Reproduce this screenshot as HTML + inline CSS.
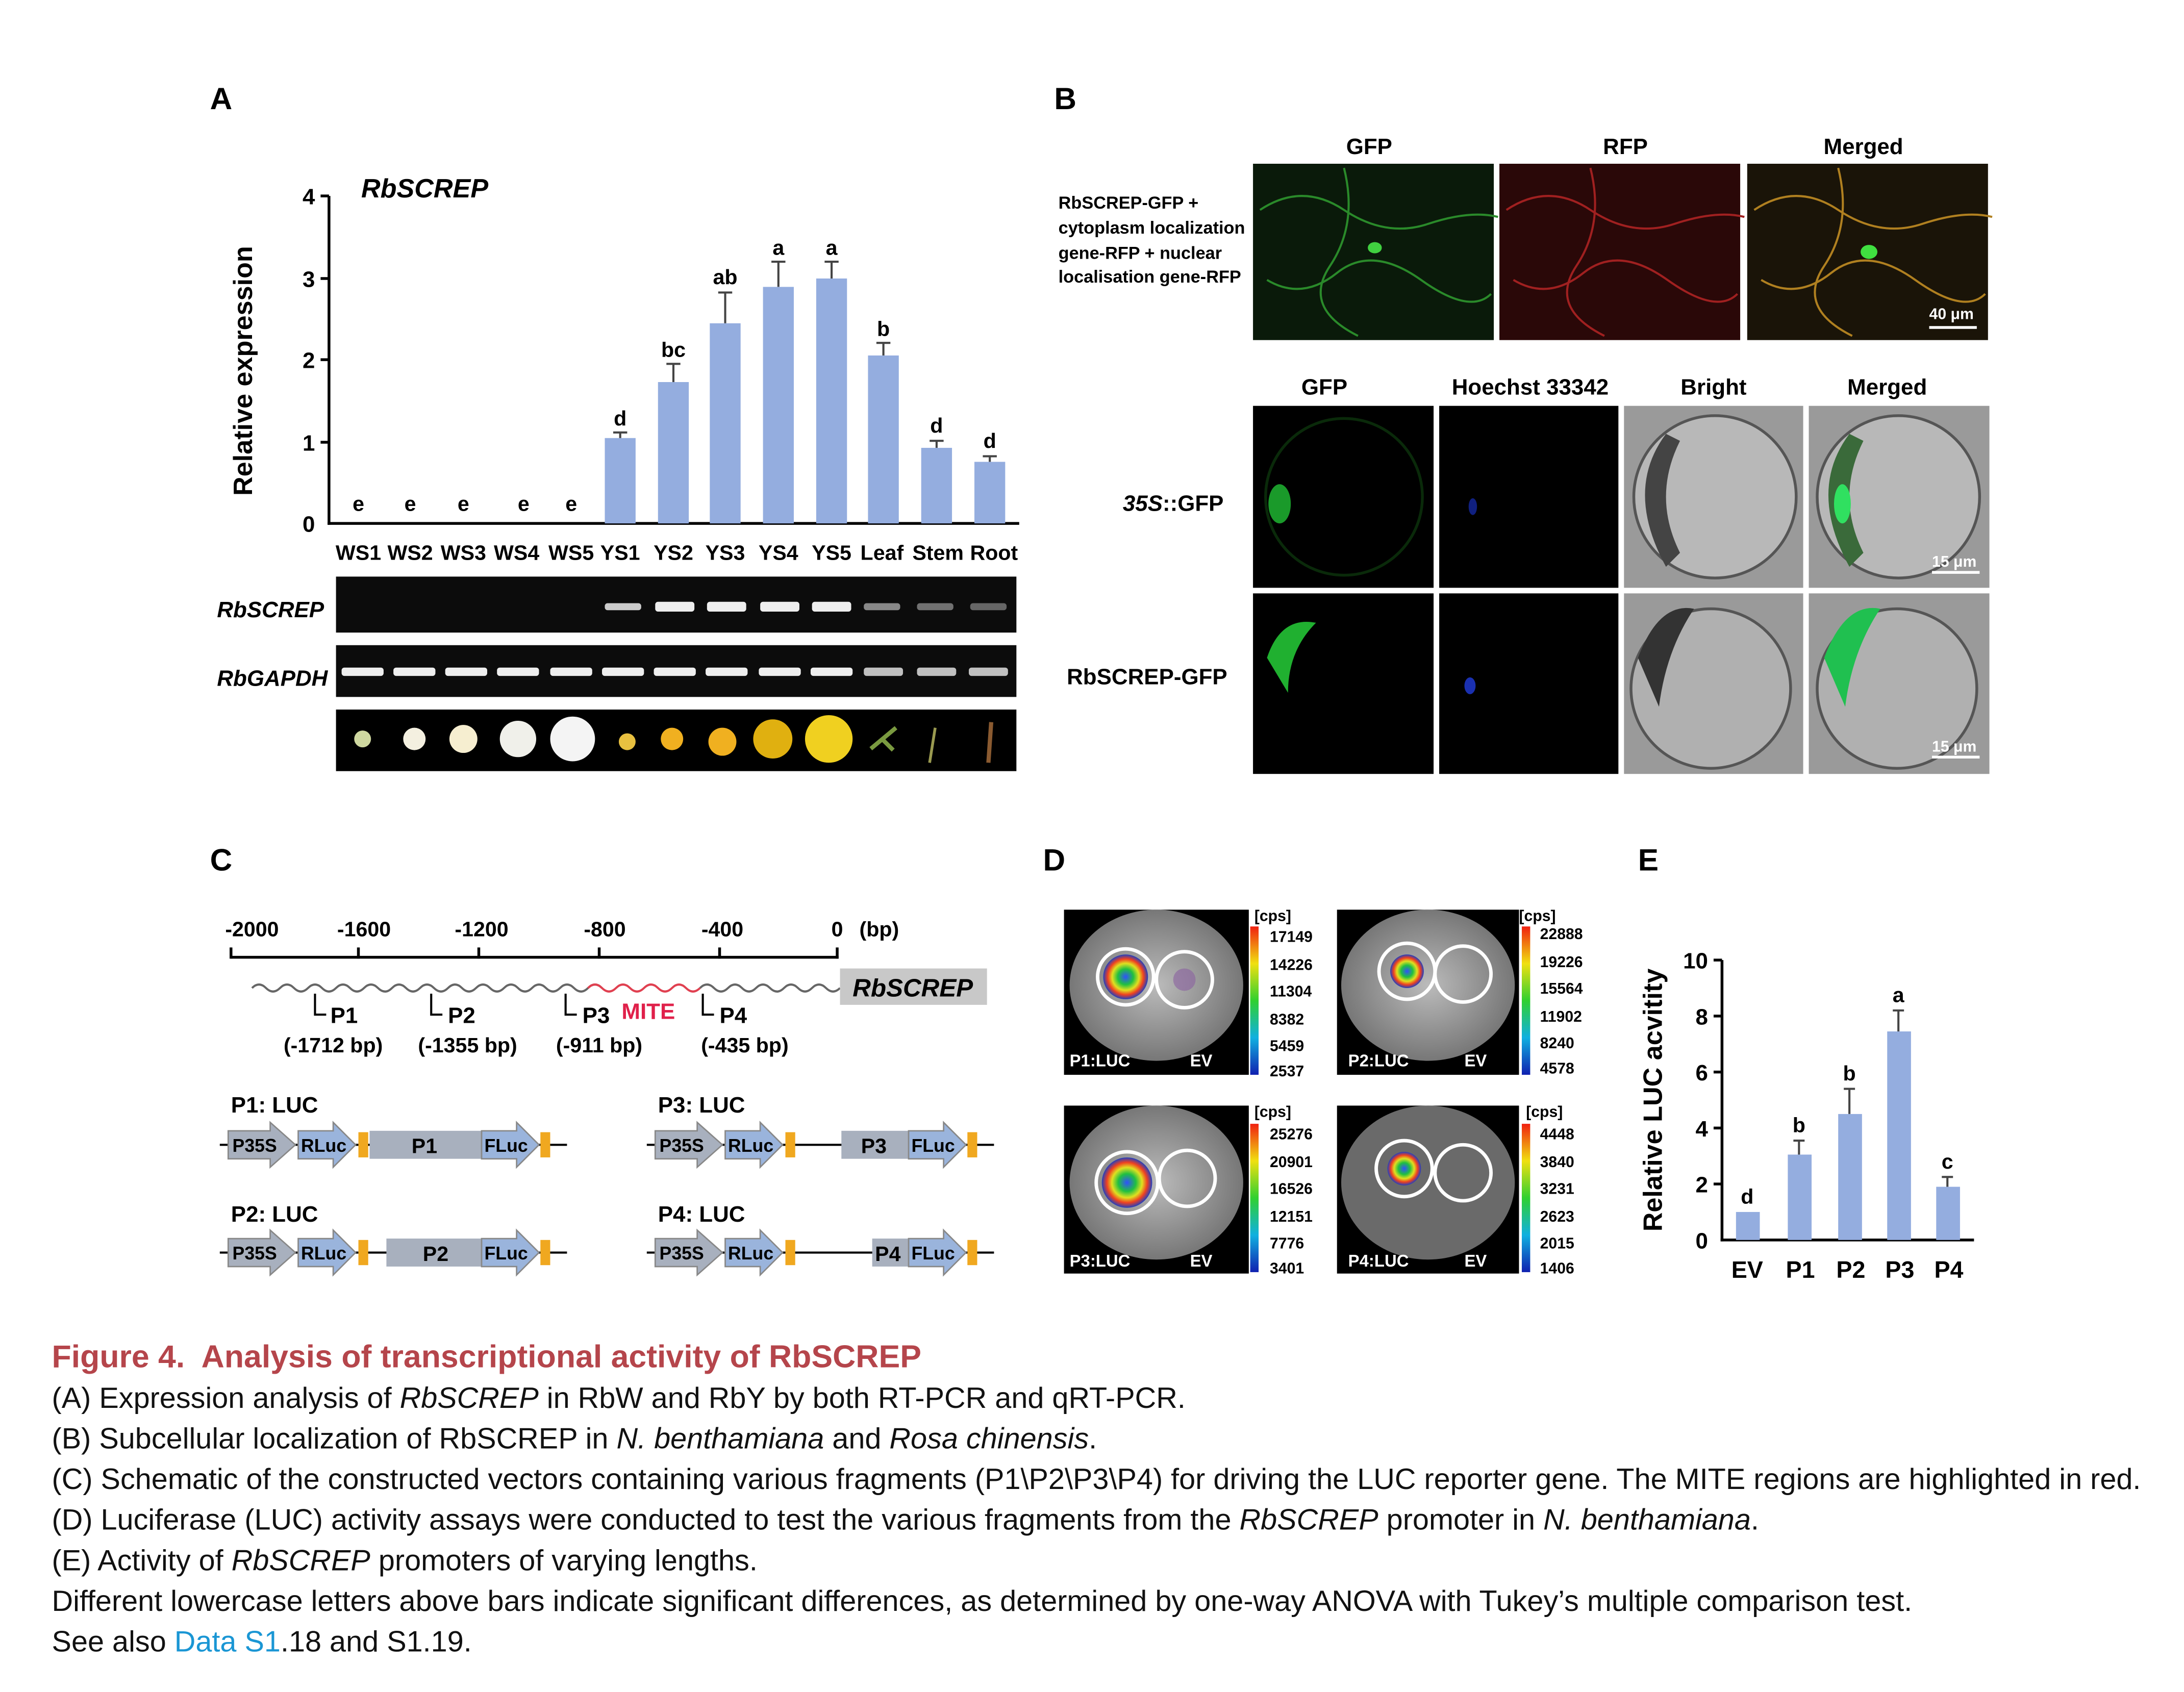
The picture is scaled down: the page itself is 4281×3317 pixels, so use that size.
<!DOCTYPE html>
<html><head><meta charset="utf-8"><style>
html,body{margin:0;padding:0;background:#fff}
svg{display:block}
text{font-family:"Liberation Sans",Arial,sans-serif}
</style></head><body>
<svg width="4281" height="3317" viewBox="0 0 1560 1209" preserveAspectRatio="none" xmlns="http://www.w3.org/2000/svg">
<defs>
<radialGradient id="hot"><stop offset="0" stop-color="#3050ff"/><stop offset="0.35" stop-color="#20c040"/><stop offset="0.6" stop-color="#e0e020"/><stop offset="0.8" stop-color="#f04020"/><stop offset="1" stop-color="#2040c0"/></radialGradient>
<linearGradient id="cbar" x1="0" y1="1" x2="0" y2="0"><stop offset="0" stop-color="#1020b0"/><stop offset="0.25" stop-color="#10b0e0"/><stop offset="0.5" stop-color="#30d030"/><stop offset="0.75" stop-color="#f0e010"/><stop offset="1" stop-color="#f02010"/></linearGradient>
<radialGradient id="leaf"><stop offset="0" stop-color="#bbb"/><stop offset="1" stop-color="#777"/></radialGradient>
</defs>
<g font-weight="bold">
<text x="150" y="78" font-size="22">A</text>
<text x="258" y="141" font-size="19" font-style="italic">RbSCREP</text>
<text transform="translate(180,265) rotate(-90)" font-size="19" text-anchor="middle">Relative expression</text>
<g stroke="#000" stroke-width="2" fill="none">
<line x1="235" y1="140" x2="235" y2="375"/><line x1="234" y1="374" x2="728" y2="374"/>
<line x1="229" y1="140" x2="235" y2="140"/><line x1="229" y1="199" x2="235" y2="199"/><line x1="229" y1="257" x2="235" y2="257"/><line x1="229" y1="316" x2="235" y2="316"/>
</g>
<g font-size="16" text-anchor="end"><text x="225" y="146">4</text><text x="225" y="205">3</text><text x="225" y="263">2</text><text x="225" y="322">1</text><text x="225" y="380">0</text></g>
<g fill="#94addf">
<rect x="432" y="313" width="22" height="61"/><rect x="470" y="273" width="22" height="101"/><rect x="507" y="231" width="22" height="143"/><rect x="545" y="205" width="22" height="169"/><rect x="583" y="199" width="22" height="175"/><rect x="620" y="254" width="22" height="120"/><rect x="658" y="320" width="22" height="54"/><rect x="696" y="330" width="22" height="44"/>
</g>
<g stroke="#444" stroke-width="1.5">
<line x1="443" y1="313" x2="443" y2="309"/><line x1="438" y1="309" x2="448" y2="309"/>
<line x1="481" y1="273" x2="481" y2="260"/><line x1="476" y1="260" x2="486" y2="260"/>
<line x1="518" y1="231" x2="518" y2="209"/><line x1="513" y1="209" x2="523" y2="209"/>
<line x1="556" y1="205" x2="556" y2="187"/><line x1="551" y1="187" x2="561" y2="187"/>
<line x1="594" y1="199" x2="594" y2="187"/><line x1="589" y1="187" x2="599" y2="187"/>
<line x1="631" y1="254" x2="631" y2="245"/><line x1="626" y1="245" x2="636" y2="245"/>
<line x1="669" y1="320" x2="669" y2="315"/><line x1="664" y1="315" x2="674" y2="315"/>
<line x1="707" y1="330" x2="707" y2="326"/><line x1="702" y1="326" x2="712" y2="326"/>
</g>
<g font-size="15" text-anchor="middle">
<text x="256" y="365">e</text><text x="293" y="365">e</text><text x="331" y="365">e</text><text x="374" y="365">e</text><text x="408" y="365">e</text>
<text x="443" y="304">d</text><text x="481" y="255">bc</text><text x="518" y="203">ab</text><text x="556" y="182">a</text><text x="594" y="182">a</text><text x="631" y="240">b</text><text x="669" y="309">d</text><text x="707" y="320">d</text>
</g>
<g font-size="15" text-anchor="middle">
<text x="256" y="400">WS1</text><text x="293" y="400">WS2</text><text x="331" y="400">WS3</text><text x="369" y="400">WS4</text><text x="408" y="400">WS5</text><text x="443" y="400">YS1</text><text x="481" y="400">YS2</text><text x="518" y="400">YS3</text><text x="556" y="400">YS4</text><text x="594" y="400">YS5</text><text x="630" y="400">Leaf</text><text x="670" y="400">Stem</text><text x="710" y="400">Root</text>
</g>
<text x="155" y="441" font-size="16" font-style="italic">RbSCREP</text>
<text x="155" y="490" font-size="16" font-style="italic">RbGAPDH</text>
<rect x="240" y="412" width="486" height="40" fill="#0c0c0c"/>
<rect x="240" y="461" width="486" height="37" fill="#0c0c0c"/>
<rect x="240" y="507" width="486" height="44" fill="#000"/>
<g fill="#eee">
<rect x="432" y="431" width="26" height="5" rx="2" opacity=".85"/><rect x="468" y="430" width="28" height="7" rx="2"/><rect x="505" y="430" width="28" height="7" rx="2"/><rect x="543" y="430" width="28" height="7" rx="2"/><rect x="580" y="430" width="28" height="7" rx="2"/><rect x="617" y="431" width="26" height="5" rx="2" opacity=".55"/><rect x="655" y="431" width="26" height="5" rx="2" opacity=".45"/><rect x="693" y="431" width="26" height="5" rx="2" opacity=".4"/>
<rect x="244" y="477" width="30" height="6" rx="2"/><rect x="281" y="477" width="30" height="6" rx="2"/><rect x="318" y="477" width="30" height="6" rx="2"/><rect x="355" y="477" width="30" height="6" rx="2"/><rect x="393" y="477" width="30" height="6" rx="2"/><rect x="430" y="477" width="30" height="6" rx="2"/><rect x="467" y="477" width="30" height="6" rx="2"/><rect x="504" y="477" width="30" height="6" rx="2"/><rect x="542" y="477" width="30" height="6" rx="2"/><rect x="579" y="477" width="30" height="6" rx="2"/><rect x="617" y="477" width="28" height="6" rx="2" opacity=".8"/><rect x="655" y="477" width="28" height="6" rx="2" opacity=".8"/><rect x="692" y="477" width="28" height="6" rx="2" opacity=".8"/>
</g>
<g>
<circle cx="259" cy="528" r="6" fill="#cfd8a0"/><circle cx="296" cy="528" r="8" fill="#f4f0e0"/><circle cx="331" cy="528" r="10" fill="#f6eed0"/><circle cx="370" cy="528" r="13" fill="#f0f0ea"/><circle cx="409" cy="528" r="16" fill="#f4f4f4"/>
<circle cx="448" cy="530" r="6" fill="#e8c040"/><circle cx="480" cy="528" r="8" fill="#f0b020"/><circle cx="516" cy="530" r="10" fill="#f0b020"/><circle cx="552" cy="528" r="14" fill="#e0b010"/><circle cx="592" cy="528" r="17" fill="#f0d020"/>
<path d="M622 535 L640 520 M630 528 l8 8" stroke="#7a9a40" stroke-width="3"/><path d="M664 545 L668 520" stroke="#9a9a50" stroke-width="2"/><path d="M706 545 L708 516" stroke="#8a5a30" stroke-width="3"/>
</g>

<text x="753" y="78" font-size="22">B</text>
<g font-size="16" text-anchor="middle"><text x="978" y="110">GFP</text><text x="1161" y="110">RFP</text><text x="1331" y="110">Merged</text>
<text x="946" y="282">GFP</text><text x="1093" y="282">Hoechst 33342</text><text x="1224" y="282">Bright</text><text x="1348" y="282">Merged</text></g>
<g font-size="12.5"><text x="756" y="149">RbSCREP-GFP +</text><text x="756" y="167">cytoplasm localization</text><text x="756" y="185">gene-RFP + nuclear</text><text x="756" y="202">localisation gene-RFP</text></g>
<rect x="895" y="117" width="172" height="126" fill="#0a1a0a"/>
<rect x="1071" y="117" width="172" height="126" fill="#2a0808"/>
<rect x="1248" y="117" width="172" height="126" fill="#1a1408"/>
<path d="M900 150 q30 -20 60 0 t60 10 t50 -5 M905 200 q25 15 50 -5 t60 5 t50 10 M960 120 q10 40 -10 70 t20 50" stroke="#2a8a2a" stroke-width="1.5" fill="none"/>
<path d="M1076 150 q30 -20 60 0 t60 10 t50 -5 M1081 200 q25 15 50 -5 t60 5 t50 10 M1136 120 q10 40 -10 70 t20 50" stroke="#a02020" stroke-width="1.5" fill="none"/>
<path d="M1253 150 q30 -20 60 0 t60 10 t50 -5 M1258 200 q25 15 50 -5 t60 5 t50 10 M1313 120 q10 40 -10 70 t20 50" stroke="#b08020" stroke-width="1.5" fill="none"/>
<ellipse cx="982" cy="177" rx="5" ry="4" fill="#40d040"/><ellipse cx="1335" cy="180" rx="6" ry="5" fill="#40e040"/>
<line x1="1378" y1="234" x2="1412" y2="234" stroke="#fff" stroke-width="2"/><text x="1378" y="228" font-size="11" fill="#fff">40 μm</text>
<text x="802" y="365" font-size="16"><tspan font-style="italic">35S</tspan>::GFP</text>
<text x="762" y="489" font-size="16">RbSCREP-GFP</text>
<rect x="895" y="290" width="129" height="130" fill="#000"/><rect x="1028" y="290" width="128" height="130" fill="#000"/>
<rect x="1160" y="290" width="128" height="130" fill="#9a9a9a"/><rect x="1292" y="290" width="129" height="130" fill="#9a9a9a"/>
<rect x="895" y="424" width="129" height="129" fill="#000"/><rect x="1028" y="424" width="128" height="129" fill="#000"/>
<rect x="1160" y="424" width="128" height="129" fill="#9a9a9a"/><rect x="1292" y="424" width="129" height="129" fill="#9a9a9a"/>
<circle cx="960" cy="355" r="56" stroke="#0a2a0a" fill="none" stroke-width="2"/><ellipse cx="914" cy="360" rx="8" ry="14" fill="#1a9a2a"/>
<ellipse cx="1052" cy="362" rx="3" ry="6" fill="#102080"/><ellipse cx="1050" cy="490" rx="4" ry="6" fill="#1a30b0"/>
<circle cx="1225" cy="355" r="58" fill="#b8b8b8" stroke="#555" stroke-width="2"/><path d="M1190 310 q-30 40 0 95 l10 -10 q-20 -40 0 -80z" fill="#444"/>
<circle cx="1356" cy="355" r="58" fill="#b8b8b8" stroke="#555" stroke-width="2"/><path d="M1321 310 q-30 40 0 95 l10 -10 q-20 -40 0 -80z" fill="#3a6a3a"/><ellipse cx="1316" cy="360" rx="6" ry="14" fill="#30e060"/>
<circle cx="1222" cy="492" r="57" fill="#b0b0b0" stroke="#555" stroke-width="2"/><path d="M1170 470 q15 -40 40 -35 q-20 30 -25 70 z" fill="#333"/>
<circle cx="1355" cy="492" r="57" fill="#b0b0b0" stroke="#555" stroke-width="2"/><path d="M1303 470 q15 -40 40 -35 q-20 30 -25 70 z" fill="#20c050"/>
<path d="M905 470 q10 -30 35 -25 q-20 20 -20 50z" fill="#20b030"/>
<line x1="1380" y1="409" x2="1414" y2="409" stroke="#fff" stroke-width="2"/><text x="1380" y="405" font-size="11" fill="#fff">15 μm</text>
<line x1="1380" y1="541" x2="1414" y2="541" stroke="#fff" stroke-width="2"/><text x="1380" y="537" font-size="11" fill="#fff">15 μm</text>

<text x="150" y="622" font-size="22">C</text>
<g font-size="15" text-anchor="middle"><text x="180" y="669">-2000</text><text x="260" y="669">-1600</text><text x="344" y="669">-1200</text><text x="432" y="669">-800</text><text x="516" y="669">-400</text><text x="598" y="669">0</text><text x="628" y="669">(bp)</text></g>
<g stroke="#000" stroke-width="2"><line x1="165" y1="684" x2="599" y2="684"/><line x1="165" y1="677" x2="165" y2="685"/><line x1="256" y1="677" x2="256" y2="685"/><line x1="342" y1="677" x2="342" y2="685"/><line x1="428" y1="677" x2="428" y2="685"/><line x1="514" y1="677" x2="514" y2="685"/><line x1="598" y1="677" x2="598" y2="685"/></g>
<path d="M180 706 q5 -5 10 0 t10 0 t10 0 t10 0 t10 0 t10 0 t10 0 t10 0 t10 0 t10 0 t10 0 t10 0 t10 0 t10 0 t10 0 t10 0 t10 0 t10 0 t10 0 t10 0 t10 0 t10 0 t10 0 t10 0 t10 0" stroke="#666" fill="none" stroke-width="1.5"/>
<path d="M420 706 q5 -5 10 0 t10 0 t10 0 t10 0 t10 0 t10 0 t10 0 t10 0" stroke="#e04050" fill="none" stroke-width="1.5"/>
<path d="M500 706 q5 -5 10 0 t10 0 t10 0 t10 0 t10 0 t10 0 t10 0 t10 0 t10 0 t10 0" stroke="#666" fill="none" stroke-width="1.5"/>
<rect x="600" y="692" width="105" height="26" fill="#c8c8c8"/><text x="652" y="712" font-size="18" font-style="italic" text-anchor="middle">RbSCREP</text>
<g stroke="#000" stroke-width="1.5" fill="none"><path d="M225 710 v15 h8"/><path d="M308 710 v15 h8"/><path d="M404 710 v15 h8"/><path d="M502 710 v15 h8"/></g>
<g font-size="16"><text x="236" y="731">P1</text><text x="320" y="731">P2</text><text x="416" y="731">P3</text><text x="444" y="728" fill="#e0204a">MITE</text><text x="514" y="731">P4</text></g>
<g font-size="15" text-anchor="middle"><text x="238" y="752">(-1712 bp)</text><text x="334" y="752">(-1355 bp)</text><text x="428" y="752">(-911 bp)</text><text x="532" y="752">(-435 bp)</text></g>
<g font-size="16"><text x="165" y="795">P1: LUC</text><text x="470" y="795">P3: LUC</text><text x="165" y="873">P2: LUC</text><text x="470" y="873">P4: LUC</text></g>
<g>
<line x1="157" y1="818" x2="405" y2="818" stroke="#000" stroke-width="1.5"/>
<path d="M163 808 h30 v-6 l18 16 l-18 16 v-6 h-30z" fill="#a8b0be" stroke="#888"/>
<path d="M213 808 h25 v-6 l16 16 l-16 16 v-6 h-25z" fill="#9ab4dc" stroke="#888"/>
<rect x="256" y="809" width="7" height="18" fill="#f0a820"/>
<rect x="264" y="808" width="80" height="20" fill="#a8b0be"/>
<path d="M344 808 h25 v-6 l16 16 l-16 16 v-6 h-25z" fill="#9ab4dc" stroke="#888"/>
<rect x="386" y="809" width="7" height="18" fill="#f0a820"/>
</g>
<g font-size="13"><text x="166" y="823">P35S</text><text x="215" y="823">RLuc</text><text x="346" y="823">FLuc</text><text x="294" y="824" font-size="15">P1</text></g>
<g transform="translate(0,77)"><line x1="157" y1="818" x2="405" y2="818" stroke="#000" stroke-width="1.5"/>
<path d="M163 808 h30 v-6 l18 16 l-18 16 v-6 h-30z" fill="#a8b0be" stroke="#888"/>
<path d="M213 808 h25 v-6 l16 16 l-16 16 v-6 h-25z" fill="#9ab4dc" stroke="#888"/>
<rect x="256" y="809" width="7" height="18" fill="#f0a820"/><rect x="276" y="808" width="68" height="20" fill="#a8b0be"/>
<path d="M344 808 h25 v-6 l16 16 l-16 16 v-6 h-25z" fill="#9ab4dc" stroke="#888"/><rect x="386" y="809" width="7" height="18" fill="#f0a820"/>
<g font-size="13"><text x="166" y="823">P35S</text><text x="215" y="823">RLuc</text><text x="346" y="823">FLuc</text><text x="302" y="824" font-size="15">P2</text></g></g>
<g transform="translate(305,0)"><line x1="157" y1="818" x2="405" y2="818" stroke="#000" stroke-width="1.5"/>
<path d="M163 808 h30 v-6 l18 16 l-18 16 v-6 h-30z" fill="#a8b0be" stroke="#888"/>
<path d="M213 808 h25 v-6 l16 16 l-16 16 v-6 h-25z" fill="#9ab4dc" stroke="#888"/>
<rect x="256" y="809" width="7" height="18" fill="#f0a820"/><rect x="296" y="808" width="48" height="20" fill="#a8b0be"/>
<path d="M344 808 h25 v-6 l16 16 l-16 16 v-6 h-25z" fill="#9ab4dc" stroke="#888"/><rect x="386" y="809" width="7" height="18" fill="#f0a820"/>
<g font-size="13"><text x="166" y="823">P35S</text><text x="215" y="823">RLuc</text><text x="346" y="823">FLuc</text><text x="310" y="824" font-size="15">P3</text></g></g>
<g transform="translate(305,77)"><line x1="157" y1="818" x2="405" y2="818" stroke="#000" stroke-width="1.5"/>
<path d="M163 808 h30 v-6 l18 16 l-18 16 v-6 h-30z" fill="#a8b0be" stroke="#888"/>
<path d="M213 808 h25 v-6 l16 16 l-16 16 v-6 h-25z" fill="#9ab4dc" stroke="#888"/>
<rect x="256" y="809" width="7" height="18" fill="#f0a820"/><rect x="318" y="808" width="26" height="20" fill="#a8b0be"/>
<path d="M344 808 h25 v-6 l16 16 l-16 16 v-6 h-25z" fill="#9ab4dc" stroke="#888"/><rect x="386" y="809" width="7" height="18" fill="#f0a820"/>
<g font-size="13"><text x="166" y="823">P35S</text><text x="215" y="823">RLuc</text><text x="346" y="823">FLuc</text><text x="320" y="824" font-size="15">P4</text></g></g>

<text x="745" y="622" font-size="22">D</text>
<g>
<rect x="760" y="650" width="132" height="118" fill="#000"/><ellipse cx="826" cy="704" rx="62" ry="54" fill="url(#leaf)"/>
<circle cx="804" cy="698" r="16" fill="url(#hot)"/><circle cx="804" cy="698" r="20" fill="none" stroke="#fff" stroke-width="2.5"/><circle cx="846" cy="700" r="20" fill="none" stroke="#fff" stroke-width="2.5"/><circle cx="846" cy="700" r="8" fill="#8a60a0" opacity=".6"/>
<text x="764" y="762" font-size="12" fill="#fff">P1:LUC</text><text x="850" y="762" font-size="12" fill="#fff">EV</text>
<rect x="955" y="650" width="130" height="118" fill="#000"/><ellipse cx="1020" cy="704" rx="62" ry="54" fill="url(#leaf)"/>
<circle cx="1005" cy="694" r="12" fill="url(#hot)"/><circle cx="1005" cy="694" r="20" fill="none" stroke="#fff" stroke-width="2.5"/><circle cx="1045" cy="696" r="20" fill="none" stroke="#fff" stroke-width="2.5"/>
<text x="963" y="762" font-size="12" fill="#fff">P2:LUC</text><text x="1046" y="762" font-size="12" fill="#fff">EV</text>
<rect x="760" y="790" width="132" height="120" fill="#000"/><ellipse cx="826" cy="845" rx="62" ry="55" fill="url(#leaf)"/>
<circle cx="805" cy="845" r="18" fill="url(#hot)"/><circle cx="805" cy="845" r="22" fill="none" stroke="#fff" stroke-width="2.5"/><circle cx="848" cy="842" r="20" fill="none" stroke="#fff" stroke-width="2.5"/>
<text x="764" y="905" font-size="12" fill="#fff">P3:LUC</text><text x="850" y="905" font-size="12" fill="#fff">EV</text>
<rect x="955" y="790" width="130" height="120" fill="#000"/><ellipse cx="1020" cy="845" rx="62" ry="55" fill="#6a6a6a"/>
<circle cx="1003" cy="835" r="12" fill="url(#hot)"/><circle cx="1003" cy="835" r="20" fill="none" stroke="#fff" stroke-width="2.5"/><circle cx="1045" cy="838" r="20" fill="none" stroke="#fff" stroke-width="2.5"/>
<text x="963" y="905" font-size="12" fill="#fff">P4:LUC</text><text x="1046" y="905" font-size="12" fill="#fff">EV</text>
</g>
<g font-size="11">
<rect x="893" y="662" width="6" height="106" fill="url(#cbar)"/><text x="896" y="658">[cps]</text>
<text x="907" y="673">17149</text><text x="907" y="693">14226</text><text x="907" y="712">11304</text><text x="907" y="732">8382</text><text x="907" y="751">5459</text><text x="907" y="769">2537</text>
<rect x="1087" y="662" width="6" height="106" fill="url(#cbar)"/><text x="1085" y="658">[cps]</text>
<text x="1100" y="671">22888</text><text x="1100" y="691">19226</text><text x="1100" y="710">15564</text><text x="1100" y="730">11902</text><text x="1100" y="749">8240</text><text x="1100" y="767">4578</text>
<rect x="893" y="803" width="6" height="106" fill="url(#cbar)"/><text x="896" y="798">[cps]</text>
<text x="907" y="814">25276</text><text x="907" y="834">20901</text><text x="907" y="853">16526</text><text x="907" y="873">12151</text><text x="907" y="892">7776</text><text x="907" y="910">3401</text>
<rect x="1087" y="803" width="6" height="106" fill="url(#cbar)"/><text x="1090" y="798">[cps]</text>
<text x="1100" y="814">4448</text><text x="1100" y="834">3840</text><text x="1100" y="853">3231</text><text x="1100" y="873">2623</text><text x="1100" y="892">2015</text><text x="1100" y="910">1406</text>
</g>

<text x="1170" y="622" font-size="22">E</text>
<text transform="translate(1187,786) rotate(-90)" font-size="19" text-anchor="middle">Relative LUC acvitity</text>
<g stroke="#000" stroke-width="2"><line x1="1230" y1="686" x2="1230" y2="887"/><line x1="1229" y1="886" x2="1410" y2="886"/>
<line x1="1224" y1="686" x2="1230" y2="686"/><line x1="1224" y1="726" x2="1230" y2="726"/><line x1="1224" y1="766" x2="1230" y2="766"/><line x1="1224" y1="806" x2="1230" y2="806"/><line x1="1224" y1="846" x2="1230" y2="846"/></g>
<g font-size="16" text-anchor="end"><text x="1220" y="692">10</text><text x="1220" y="732">8</text><text x="1220" y="772">6</text><text x="1220" y="812">4</text><text x="1220" y="852">2</text><text x="1220" y="892">0</text></g>
<g fill="#94addf"><rect x="1240" y="866" width="17" height="20"/><rect x="1277" y="825" width="17" height="61"/><rect x="1313" y="796" width="17" height="90"/><rect x="1348" y="737" width="17" height="149"/><rect x="1383" y="848" width="17" height="38"/></g>
<g stroke="#444" stroke-width="1.5"><line x1="1285" y1="825" x2="1285" y2="815"/><line x1="1281" y1="815" x2="1289" y2="815"/><line x1="1321" y1="796" x2="1321" y2="778"/><line x1="1317" y1="778" x2="1325" y2="778"/><line x1="1356" y1="737" x2="1356" y2="722"/><line x1="1352" y1="722" x2="1360" y2="722"/><line x1="1391" y1="848" x2="1391" y2="841"/><line x1="1387" y1="841" x2="1395" y2="841"/></g>
<g font-size="15" text-anchor="middle"><text x="1248" y="860">d</text><text x="1285" y="809">b</text><text x="1321" y="772">b</text><text x="1356" y="716">a</text><text x="1391" y="835">c</text></g>
<g font-size="17" text-anchor="middle"><text x="1248" y="913">EV</text><text x="1286" y="913">P1</text><text x="1322" y="913">P2</text><text x="1357" y="913">P3</text><text x="1392" y="913">P4</text></g>
</g>

<text x="37" y="977" font-size="22.8" font-weight="bold" fill="#b5454b" xml:space="preserve">Figure 4.  Analysis of transcriptional activity of RbSCREP</text>
<g font-size="21" fill="#111">
<text x="37" y="1006">(A) Expression analysis of <tspan font-style="italic">RbSCREP</tspan> in RbW and RbY by both RT-PCR and qRT-PCR.</text>
<text x="37" y="1035">(B) Subcellular localization of RbSCREP in <tspan font-style="italic">N. benthamiana</tspan> and <tspan font-style="italic">Rosa chinensis</tspan>.</text>
<text x="37" y="1064">(C) Schematic of the constructed vectors containing various fragments (P1\P2\P3\P4) for driving the LUC reporter gene. The MITE regions are highlighted in red.</text>
<text x="37" y="1093">(D) Luciferase (LUC) activity assays were conducted to test the various fragments from the <tspan font-style="italic">RbSCREP</tspan> promoter in <tspan font-style="italic">N. benthamiana</tspan>.</text>
<text x="37" y="1122">(E) Activity of <tspan font-style="italic">RbSCREP</tspan> promoters of varying lengths.</text>
<text x="37" y="1151">Different lowercase letters above bars indicate significant differences, as determined by one-way ANOVA with Tukey’s multiple comparison test.</text>
<text x="37" y="1180">See also <tspan fill="#1a96d4">Data S1</tspan>.18 and S1.19.</text>
</g>
</svg>
</body></html>
